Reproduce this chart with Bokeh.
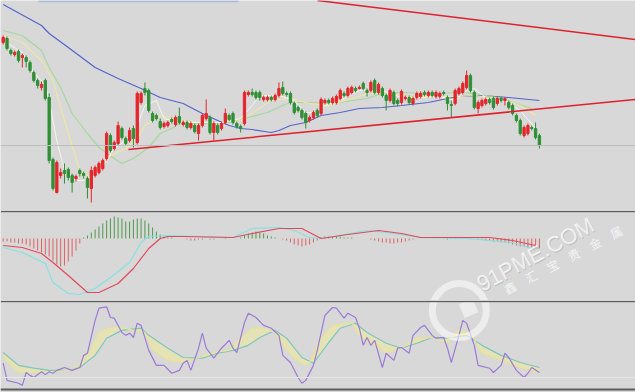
from bokeh.plotting import figure
from bokeh.layouts import column
from bokeh.models import Range1d, Span, BoxAnnotation, ColumnDataSource
from bokeh.embed import file_html
from bokeh.resources import INLINE
from bokeh.core.properties import value

# ---------------- data ----------------
open_ = [158,162,150,146,149,143,143,138,128,120, 113,120,103,41,8,25,30,31,25,22,
         30,27,22,12,25,28,32,42,65,52, 57,72,62,60,72,58,98,112,110,87,
         85,79,74,75,81,76,84,76,78,73, 75,67,75,82,83,68,75,72,78,85,
         87,77,74,77,106,108,108,108,101,101, 103,101,105,113,107,107,97,93,90,87,
         80,83,90,87,98,100,98,98,102,107, 105,108,112,112,117,110,110,120,108,112,
         105,100,108,100,98,102,103,97,103,104, 108,105,108,104,104,108,103,96,97,107,
         108,113,125,108,92,95,97,101,102,97, 102,100,98,95,85,80,65,67,73,72, 65]
high_ = [165,164,152,150,151,147,145,140,130,122, 119,122,107,43,40,32,37,33,27,26,
         32,29,24,34,35,39,42,69,67,60, 79,74,64,73,75,109,109,118,112,89,
         87,82,79,80,83,85,93,80,80,79, 77,77,87,101,85,79,77,79,92,87,
         89,79,76,110,110,112,110,110,105,105, 105,107,118,119,109,109,99,95,92,89,
         85,90,92,103,102,102,104,106,112,109, 114,115,114,115,119,112,120,122,118,114,
         107,112,110,102,111,105,105,104,109,109, 110,110,110,110,109,110,105,100,112,114,
         119,130,127,110,100,102,103,103,104,104, 104,103,100,97,87,82,75,77,75,78, 67]
low_ = [156,150,145,144,138,133,133,128,118,112, 110,100,37,10,7,22,17,20,8,19,
        24,22,2,-2,23,26,30,40,48,50, 55,61,55,58,53,56,96,105,88,78,
        80,71,72,73,77,74,76,74,71,71, 67,60,73,80,66,60,66,70,76,79,
        76,72,68,75,104,104,101,100,99,99, 99,99,103,105,104,96,86,88,81,72,
        78,81,83,85,96,96,96,96,100,103, 103,106,108,111,110,104,108,106,106,103,
        90,98,95,94,96,100,96,95,101,102, 104,103,103,102,102,105,90,83,95,105,
        106,111,108,91,87,93,95,96,91,95, 98,95,91,85,78,65,63,65,70,61, 52]
close_ = [163,152,147,148,140,145,139,130,120,115, 116,102,40,12,38,28,27,23,18,24,
          27,25,13,30,33,37,40,67,50,58, 75,63,57,70,62,107,107,108,90,80,
          82,73,77,78,79,83,78,78,73,77, 69,75,85,87,68,77,68,77,87,81,
          78,74,72,108,108,106,103,103,103,103, 101,105,112,107,106,98,88,90,83,78,
          83,88,85,101,100,98,102,104,110,105, 112,113,110,113,112,108,118,108,116,105,
          100,110,97,97,109,103,98,102,107,107, 106,108,105,108,107,107,97,95,110,112,
          117,125,110,93,98,100,101,98,93,102, 100,102,93,87,80,67,73,75,72,63, 55]

# moving averages (candle index, price)
ma5_i = [0,5,8,11,12,14,16,19,21,24,27,29,32,35,37,40,42,46,52,57,62,65,67,72,76,79,82,84,88,93,99,104,109,114,118,121,123,127,131,135,139]
ma5_v = [160,148,128,115,100,60,30,20,20,25,40,52,60,75,95,100,82,78,78,78,82,95,105,105,100,88,88,95,100,110,110,103,103,104,100,110,112,100,100,90,72]
ma10_i = [0,5,10,13,16,20,23,25,28,32,35,37,41,46,52,57,62,66,70,75,80,85,91,96,101,106,114,119,123,127,131,135,139]
ma10_v = [165,158,140,120,80,30,22,32,45,52,62,75,85,80,78,78,80,90,100,102,97,95,102,108,107,104,104,104,105,103,100,95,85]
ma20_i = [0,5,10,12,15,18,22,25,29,31,34,38,41,44,46,52,59,63,69,73,75,80,86,95,99,104,112,119,123,129,133,138]
ma20_v = [170,165,150,133,113,87,67,53,42,37,42,53,67,72,77,77,78,82,88,95,98,98,97,102,107,108,107,108,107,103,98,92]
ma60_i = [0,10,12,17,24,30,36,41,47,52,56,59,62,65,70,72,75,79,83,88,93,99,104,111,116,119,125,132,140]
ma60_v = [196,175,167,153,133,122,112,103,97,87,80,75,72,71,68,70,75,78,85,88,92,93,95,98,102,104,105,103,100]

# trend lines (candle index, price)
trend_upper_i = [82.1, 165.1]
trend_upper_v = [200, 161]
trend_lower_i = [32.7, 165.1]
trend_lower_v = [51, 101]

# MACD
macd_hist = [-3,-3,-4,-4,-5,-5,-6,-8,-10,-12, -14,-16,-18,-22,-26,-28,-27,-23,-18,-12,
             -5,1,3,6,9,12,15,18,20,22, 21,20,17,17,19,20,20,18,15,11,
             7,4,2,1,1,0,0,0,-1,-2, -2,-1,-1,0,-1,-1,0,0,1,0,
             0,0,1,3,5,6,7,6,5,3, 2,1,0,-1,-2,-4,-6,-7,-8,-7,
             -6,-4,-2,1,2,2,2,2,2,1, 1,1,0,0,0,0,-1,-2,-3,-4,
             -4,-5,-5,-4,-4,-3,-2,-1,0,0, 0,0,0,0,0,0,-1,1,1,0,
             0,1,1,0,-1,-1,-2,-2,-3,-3, -4,-4,-5,-6,-7,-8,-8,-9,-9,-10, -10]
dea_i = [0,5,10,13,17,22,25,30,34,38,41,43,47,60,65,72,76,78,83,90,98,104,109,118,127,133,139]
dea_v = [-7,-9,-15,-24,-37,-54,-54,-45,-30,-10,0,2,2,1,5,10,10,10,0,4,8,5,1,1,1,-2,-7]
dif_i = [0,5,11,13,17,20,24,28,33,36,38,43,60,65,72,76,80,83,95,100,109,121,133,138,140]
dif_v = [-9,-14,-25,-44,-55,-56,-50,-39,-24,-4,2,3,1,10,11,8,1,0,8,6,1,0,-4,-10,-10]

# KDJ
j_i = [0,1,4,5,6,7,8,10,11,12,13,14,16,18,20,21,22,24,25,27,28,29,31,32,33,34,35,36,38,40,42,44,46,47,48,49,51,52,53,55,57,59,60,61,63,64,66,68,70,72,73,75,77,78,79,81,82,84,86,87,89,90,92,93,94,95,96,97,99,100,102,103,104,106,107,109,110,112,113,115,116,117,119,120,121,123,124,127,128,130,131,132,134,136,137,138,140]
j_v = [20,-4,-8,-11,7,3,0,8,4,8,6,10,14,10,14,31,34,80,97,99,84,83,63,59,62,56,76,73,38,17,17,6,10,20,24,10,41,62,41,27,41,52,41,35,77,90,84,73,69,59,31,21,0,-8,-4,17,38,87,98,97,83,90,84,69,45,56,45,52,14,34,24,41,42,34,59,70,73,59,55,56,41,21,59,80,76,45,17,13,7,17,34,28,10,0,6,14,7]
d_i = [0,4,8,12,17,20,24,27,31,36,38,43,47,52,56,60,64,67,71,74,78,81,85,88,92,95,100,104,108,112,116,121,125,130,135,140]
d_v = [35,17,13,10,10,14,31,55,66,69,59,41,28,27,34,38,45,56,66,55,28,20,49,69,76,63,48,41,48,56,55,59,45,31,21,14]
k_i = [0,4,8,12,17,20,23,25,28,31,34,37,39,43,47,51,54,59,62,65,68,71,73,76,79,80,83,86,91,93,97,100,104,108,112,116,119,122,125,130,135,140]
k_v = [28,7,7,8,10,17,41,63,70,70,66,63,38,24,21,28,34,38,55,69,69,63,45,27,17,21,55,73,77,59,45,35,41,55,56,49,66,63,34,24,14,7]

watermark = "91PME.COM"
watermark_cn = "鑫\u3000汇\u3000宝\u3000贵\u3000金\u3000属"

# ---------------- styling ----------------
BG = "#d8d8d8"
SEP = "#5c5c5c"
UP = "#e4262a"
DOWN = "#2f8f35"
W = 635
X0_PX, DX_PX = 2.7, 3.83
xr = Range1d(-X0_PX / DX_PX, (W - X0_PX) / DX_PX)


def panel(h, yr, top=0):
    p = figure(width=W, height=h, x_range=xr, y_range=yr, output_backend="svg",
               toolbar_location=None, x_axis_location=None, y_axis_location=None,
               min_border=0, min_border_left=0, min_border_right=0,
               min_border_top=top, min_border_bottom=0,
               background_fill_color=BG, border_fill_color=SEP if top else BG,
               outline_line_color=None)
    p.grid.visible = False
    return p


# ---- main price panel ----
p1 = panel(210, Range1d(-10, 200))
p1.add_layout(Span(location=55, dimension="width", line_color="#bdbdbd", line_width=1))
p1.add_layout(BoxAnnotation(left=9.2, right=61.4, bottom=198.3, top=200,
                            fill_color="#a9bcd6", fill_alpha=1, line_color=None))

idx = list(range(len(open_)))
colors = [UP if c >= o else DOWN for o, c in zip(open_, close_)]
src = ColumnDataSource(dict(x=idx, o=open_, h=high_, l=low_, c=close_,
                            top=[max(o, c) for o, c in zip(open_, close_)],
                            bot=[min(o, c) for o, c in zip(open_, close_)],
                            col=colors))
p1.line(ma60_i, ma60_v, line_color="#5464cc", line_width=1.2)
p1.line(ma20_i, ma20_v, line_color="#a6d89a", line_width=1.2)
p1.line(ma10_i, ma10_v, line_color="#efe7a2", line_width=1.2)
p1.line(ma5_i, ma5_v, line_color="#f6f4ea", line_width=1)
p1.segment(x0="x", y0="l", x1="x", y1="h", line_color="col", line_width=1, source=src)
p1.vbar(x="x", top="top", bottom="bot", width=0.6, fill_color="col", line_color="col",
        line_width=1, source=src)
p1.line(trend_upper_i, trend_upper_v, line_color="#e0202c", line_width=1.5)
p1.line(trend_lower_i, trend_lower_v, line_color="#e0202c", line_width=1.5)

# ---- MACD panel ----
p2 = panel(90, Range1d(-62, 26), top=2)
hcol = ["#4f9a4f" if v > 0 else "#e06262" for v in macd_hist]
p2.segment(x0=idx, y0=[0] * len(idx), x1=idx, y1=macd_hist, line_color=hcol, line_width=1)
p2.line(dif_i, dif_v, line_color="#86e0e0", line_width=1.2)
p2.line(dea_i, dea_v, line_color="#e04a5c", line_width=1.2)
p2.scatter([119.1], [-72], marker="circle", size=54, fill_color=None,
           line_color="white", line_alpha=0.55, line_width=7)
p2.text(x=[125.7], y=[-58], text=[watermark], angle=0.5, text_font=value("Liberation Sans"),
        text_font_size="22px", text_color="#b4b4b4", text_alpha=0.7, x_offset=1, y_offset=1)
p2.text(x=[125.7], y=[-58], text=[watermark], angle=0.5, text_font=value("Liberation Sans"),
        text_font_size="22px", text_color="white", text_alpha=0.75)
p2.text(x=[131.9], y=[-59], text=[watermark_cn], angle=0.48, text_font=value("Noto Sans CJK SC"),
        text_font_size="12px", text_color="white", text_alpha=0.75)

# ---- KDJ panel ----
p3 = panel(92, Range1d(-21, 105), top=2)
p3.add_layout(Span(location=0, dimension="width", line_color="#e6e6e6", line_width=1))
p3.add_layout(Span(location=-16.8, dimension="width", line_color=SEP, line_width=2))
p3.patch(k_i + d_i[::-1], k_v + d_v[::-1], fill_color="#efeaa0", fill_alpha=0.6, line_color=None)
p3.line(d_i, d_v, line_color="#7cc6bf", line_width=1.2)
p3.line(k_i, k_v, line_color="#e8e294", line_width=1.2)
p3.line(j_i, j_v, line_color="#9b7bd6", line_width=1.2)
p3.scatter([119.1], [93.8], marker="circle", size=54, fill_color=None,
           line_color="white", line_alpha=0.55, line_width=7)
p3.scatter([121.5], [97], marker="square", size=15, angle=0.4, fill_color="white",
           fill_alpha=0.5, line_color=None)

layout = column(p1, p2, p3, spacing=0)
open("out.html", "w").write(file_html(layout, INLINE))
